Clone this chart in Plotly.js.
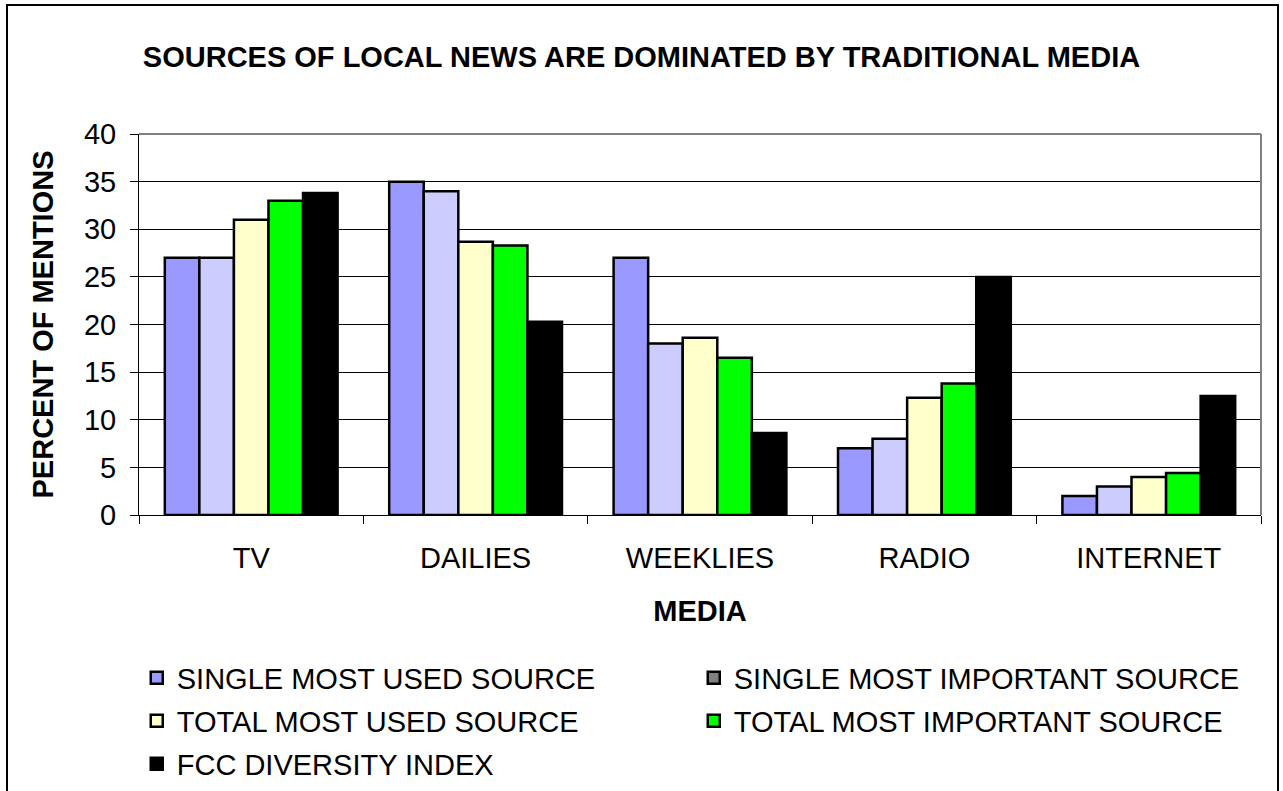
<!DOCTYPE html>
<html>
<head>
<meta charset="utf-8">
<script src="https://cdn.plot.ly/plotly-3.0.1.min.js"></script>
<style>html,body{margin:0;padding:0;background:#fff;}#chart{width:1283px;height:791px;}</style>
</head>
<body>
<div id="chart"></div>
<script>
const categories = ['TV', 'DAILIES', 'WEEKLIES', 'RADIO', 'INTERNET'];
const singleMostUsed = [27, 35, 27, 7, 2];
const singleMostImportant = [27, 34, 18, 8, 3];
const totalMostUsed = [31, 28.7, 18.6, 12.3, 4];
const totalMostImportant = [33, 28.3, 16.5, 13.8, 4.4];
const fccDiversityIndex = [33.8, 20.3, 8.6, 25, 12.5];
const yTicks = [0, 5, 10, 15, 20, 25, 30, 35, 40];

const FONT = 'Liberation Sans, Arial, sans-serif';
const FS = 29;
const edge = {color: '#000', width: 2.5};

function bar(name, y, color, extra) {
  return Object.assign({
    type: 'bar', name: name, x: categories, y: y,
    marker: {color: color, line: edge}, hoverinfo: 'x+y+name'
  }, extra || {});
}

const data = [
  bar('SINGLE MOST USED SOURCE', singleMostUsed, '#9999ff', {legend: 'legend'}),
  // legend-only entry (the reference legend shows a grey swatch for this series)
  {type: 'bar', name: 'SINGLE MOST IMPORTANT SOURCE', x: [categories[0]], y: [null],
   xaxis: 'x2', yaxis: 'y2', legend: 'legend', marker: {color: '#808080', line: edge}, hoverinfo: 'skip'},
  bar('SINGLE MOST IMPORTANT SOURCE', singleMostImportant, '#ccccff', {showlegend: false}),
  bar('TOTAL MOST USED SOURCE', totalMostUsed, '#ffffcc', {legend: 'legend2'}),
  bar('TOTAL MOST IMPORTANT SOURCE', totalMostImportant, '#00ff00', {legend: 'legend2'}),
  bar('FCC DIVERSITY INDEX', fccDiversityIndex, '#000000', {legend: 'legend3'})
];

function legendAt(py) {
  return {
    orientation: 'h', x: -0.002, xanchor: 'left', y: (515 - py) / 381, yanchor: 'middle',
    entrywidth: 512, entrywidthmode: 'pixels',
    font: {family: FONT, size: FS, color: '#000'},
    traceorder: 'normal', itemclick: false, itemdoubleclick: false,
    bgcolor: 'rgba(0,0,0,0)'
  };
}

const layout = {
  width: 1283, height: 791,
  margin: {l: 139, r: 22, t: 134, b: 276, autoexpand: false},
  paper_bgcolor: '#fff', plot_bgcolor: '#fff',
  font: {family: FONT, color: '#000', size: FS},
  barmode: 'group', bargap: 0.23, bargroupgap: 0,
  showlegend: true,
  title: {
    text: '<b>SOURCES OF LOCAL NEWS ARE DOMINATED BY TRADITIONAL MEDIA</b>',
    font: {family: FONT, size: FS, color: '#000'},
    x: 0.5, xref: 'container', xanchor: 'center', y: 1 - 57 / 791, yanchor: 'middle'
  },
  xaxis: {
    type: 'category', categoryorder: 'array', categoryarray: categories,
    range: [-0.5, 4.5],
    showline: true, linecolor: '#000', linewidth: 1,
    ticks: 'outside', ticklen: 8, tickcolor: '#000', tickwidth: 1,
    tickson: 'boundaries',
    showgrid: false, zeroline: false,
    tickfont: {family: FONT, size: FS, color: '#000'},
    ticklabelstandoff: 17,
    title: {text: '<b>MEDIA</b>', font: {family: FONT, size: FS, color: '#000'}, standoff: 27},
    automargin: false, fixedrange: true
  },
  yaxis: {
    range: [0, 40], tickvals: yTicks, ticktext: yTicks.map(String),
    showline: true, linecolor: '#000', linewidth: 1,
    ticks: 'outside', ticklen: 8, tickcolor: '#000', tickwidth: 1,
    showgrid: true, gridcolor: '#000', gridwidth: 1,
    zeroline: false,
    tickfont: {family: FONT, size: FS, color: '#000'},
    ticklabelstandoff: 8,
    title: {text: '<b>PERCENT OF MENTIONS</b>', font: {family: FONT, size: FS, color: '#000'}, standoff: 21},
    automargin: false, fixedrange: true
  },
  xaxis2: {overlaying: 'x', visible: false, type: 'category', range: [-0.5, 4.5], fixedrange: true},
  yaxis2: {overlaying: 'y', visible: false, range: [0, 40], fixedrange: true},
  legend: legendAt(678),
  legend2: legendAt(721),
  legend3: legendAt(764),
  shapes: [
    // grey plot-area edges (top and right)
    {type: 'line', xref: 'paper', yref: 'paper', x0: 0, x1: 1, y0: 1, y1: 1, line: {color: '#808080', width: 2}},
    {type: 'line', xref: 'paper', yref: 'paper', x0: 1, x1: 1, y0: 0, y1: 1, line: {color: '#808080', width: 2}},
    // outer chart frame
    {type: 'rect', xref: 'paper', yref: 'paper',
     x0: (7 - 139) / 1122, x1: (1278 - 139) / 1122,
     y0: (515 - 800) / 381, y1: (515 - 5) / 381,
     line: {color: '#000', width: 2}, fillcolor: 'rgba(0,0,0,0)', layer: 'below'}
  ]
};

Plotly.newPlot('chart', data, layout, {displayModeBar: false, staticPlot: false});
</script>
</body>
</html>
